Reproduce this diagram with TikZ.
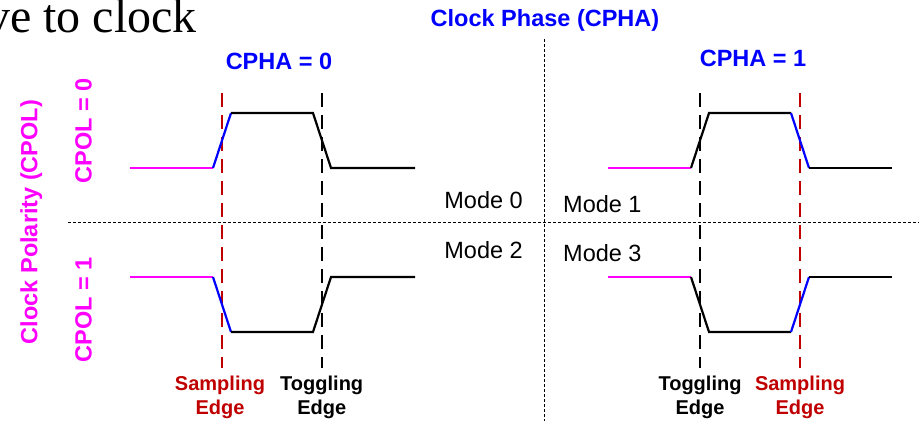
\documentclass[tikz,border=0pt]{standalone}
\usepackage{fontspec}
\setmainfont{Liberation Sans}
\newfontfamily\serifttl{Liberation Serif}
\definecolor{mag}{RGB}{255,0,255}
\definecolor{blu}{RGB}{0,0,255}
\definecolor{dred}{RGB}{192,0,0}
\begin{document}
\begin{tikzpicture}[x=1pt,y=-1pt,
  lbl/.style={inner sep=0pt,font=\fontsize{23.5}{28}\selectfont\bfseries},
  modelbl/.style={inner sep=0pt,font=\fontsize{23.5}{28}\selectfont},
  edgelbl/.style={inner sep=0pt,align=center,font=\fontsize{20}{23.3}\selectfont\bfseries},
  wave/.style={line width=2.2pt,line join=miter},
  vdash/.style={line width=2pt,dash pattern=on 14pt off 8pt},
  divider/.style={line width=0.8pt,dash pattern=on 3pt off 2pt}]
\useasboundingbox (0,0) rectangle (919,421);
\fill[white] (0,0) rectangle (919,421);
% title fragment (cut off at the page edge, as in the reference)
\node[inner sep=0pt,anchor=base east,font=\fontsize{48}{52}\selectfont\serifttl] (ttl) at (197,32.3) {ve to clock};
% headings
\node[lbl,text=blu,anchor=base] (cpha) at (545,26) {Clock Phase (CPHA)};
\node[lbl,text=blu,anchor=base] (cpha0) at (279,69) {CPHA = 0};
\node[lbl,text=blu,anchor=base] (cpha1) at (753,66) {CPHA = 1};
\node[lbl,text=mag,anchor=base,rotate=90] (cpol) at (37.3,222) {Clock Polarity (CPOL)};
\node[lbl,text=mag,anchor=base,rotate=90] (cpol0) at (91.5,131) {CPOL = 0};
\node[lbl,text=mag,anchor=base,rotate=90] (cpol1) at (91.5,310) {CPOL = 1};
% mode labels
\node[modelbl,anchor=base east] (m0) at (523,208.5) {Mode 0};
\node[modelbl,anchor=base west] (m1) at (563,212) {Mode 1};
\node[modelbl,anchor=base east] (m2) at (523,258) {Mode 2};
\node[modelbl,anchor=base west] (m3) at (563,261) {Mode 3};
% dividers
\coordinate (hl) at (68,222.7);
\coordinate (hr) at (919,222.7);
\coordinate (vt) at (544.7,39);
\coordinate (vb) at (544.7,421);
\draw[divider] (hl) -- (hr);
\draw[divider] (vt) -- (vb);
% vertical edge markers
\coordinate (a1) at (221.7,93); \coordinate (a2) at (221.7,368);
\coordinate (b1) at (322,93);   \coordinate (b2) at (322,368);
\coordinate (c1) at (699.7,93); \coordinate (c2) at (699.7,368);
\coordinate (d1) at (799.7,93); \coordinate (d2) at (799.7,368);
\draw[vdash,dred] (a1) -- (a2);
\draw[vdash,black] (b1) -- (b2);
\draw[vdash,black] (c1) -- (c2);
\draw[vdash,dred] (d1) -- (d2);
% waveforms: CPOL=0, CPHA=0
\draw[wave,mag] (130,168) -- (213,168);
\draw[wave,blu] (213,168) -- (231,113);
\draw[wave,black] (231,113) -- (313,113) -- (331,168) -- (415,168);
% CPOL=0, CPHA=1
\draw[wave,mag] (608,168) -- (691,168);
\draw[wave,black] (691,168) -- (709,113) -- (791,113);
\draw[wave,blu] (791,113) -- (809,168);
\draw[wave,black] (809,168) -- (892,168);
% CPOL=1, CPHA=0
\draw[wave,mag] (130,277) -- (213,277);
\draw[wave,blu] (213,277) -- (231,332);
\draw[wave,black] (231,332) -- (313,332) -- (331,277) -- (415,277);
% CPOL=1, CPHA=1
\draw[wave,mag] (608,277) -- (691,277);
\draw[wave,black] (691,277) -- (709,332) -- (791,332);
\draw[wave,blu] (791,332) -- (809,277);
\draw[wave,black] (809,277) -- (892,277);
% edge labels
\node[edgelbl,text=dred,anchor=base] (s0) at (220,414) {Sampling\\Edge};
\node[edgelbl,text=black,anchor=base] (t0) at (321.7,414) {Toggling\\Edge};
\node[edgelbl,text=black,anchor=base] (t1) at (700,414) {Toggling\\Edge};
\node[edgelbl,text=dred,anchor=base] (s1) at (800,414) {Sampling\\Edge};
\end{tikzpicture}
\end{document}
